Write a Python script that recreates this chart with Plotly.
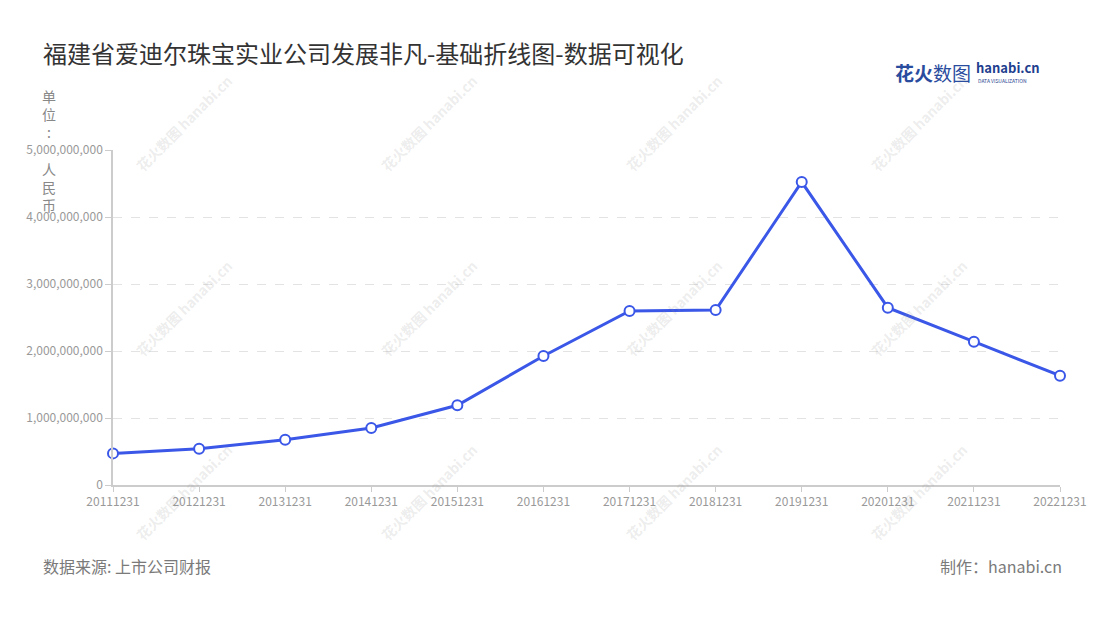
import plotly.graph_objects as go

# ---- data ----
periods = ["20111231", "20121231", "20131231", "20141231", "20151231", "20161231",
           "20171231", "20181231", "20191231", "20201231", "20211231", "20221231"]
revenue = [472000000, 542000000, 677000000, 850000000, 1190000000, 1925000000,
           2597000000, 2612000000, 4522000000, 2646000000, 2139000000, 1632000000]
y_ticks = [0, 1000000000, 2000000000, 3000000000, 4000000000, 5000000000]

title_text = "福建省爱迪尔珠宝实业公司发展非凡-基础折线图-数据可视化"
unit_text = "单<br>位<br>:<br> <br>人<br>民<br>币"
source_text = "数据来源: 上市公司财报"
maker_text = "制作：hanabi.cn"

FONT = "Noto Sans CJK SC, Noto Sans, sans-serif"
W, H = 1100, 620
L, R, T, B = 113, 40, 150, 135
PW, PH = W - L - R, H - T - B


def px(x):
    return (x - L) / PW


def py(y):
    return (H - B - y) / PH


fig = go.Figure()
fig.add_trace(go.Scatter(
    x=periods, y=revenue, mode="lines+markers",
    line=dict(color="#3a57e8", width=3),
    marker=dict(size=10, color="white", line=dict(color="#3a57e8", width=2)),
    hoverinfo="x+y", showlegend=False, cliponaxis=False,
))

annotations = []
# watermarks
for cx in [184, 429, 674, 919]:
    for cy in [123, 308, 492]:
        annotations.append(dict(
            text="<b>花火数图 hanabi.cn</b>", x=px(cx), y=py(cy), xref="paper", yref="paper",
            showarrow=False, textangle=-45, xanchor="center", yanchor="middle",
            font=dict(family=FONT, size=14, color="rgba(150,150,150,0.18)"),
        ))

annotations += [
    dict(text=unit_text, x=px(49), y=py(84), xref="paper", yref="paper", showarrow=False,
         xanchor="center", yanchor="top", align="center",
         font=dict(family=FONT, size=14, color="#888888")),
    dict(text=source_text, x=px(41), y=py(566), xref="paper", yref="paper", showarrow=False,
         xanchor="left", yanchor="middle", font=dict(family=FONT, size=16, color="#7a7a7a")),
    dict(text=maker_text, x=px(1064), y=py(566), xref="paper", yref="paper", showarrow=False,
         xanchor="right", yanchor="middle", font=dict(family=FONT, size=16, color="#7a7a7a")),
    # logo
    dict(text="<b>花火</b>数图", x=px(893), y=py(72), xref="paper", yref="paper", showarrow=False,
         xanchor="left", yanchor="middle", font=dict(family=FONT, size=19, color="#2a4c9e")),
    dict(text="<b>hanabi.cn</b>", x=px(974), y=py(68), xref="paper", yref="paper", showarrow=False,
         xanchor="left", yanchor="middle", font=dict(family=FONT, size=13, color="#1f3f8f")),
    dict(text="DATA VISUALIZATION", x=px(976), y=py(80), xref="paper", yref="paper", showarrow=False,
         xanchor="left", yanchor="middle", font=dict(family=FONT, size=5, color="#1f3f8f")),
]

fig.update_layout(
    width=W, height=H,
    margin=dict(l=L, r=R, t=T, b=B),
    paper_bgcolor="white", plot_bgcolor="white",
    font=dict(family=FONT),
    title=dict(text=title_text, x=43 / W, xref="container", xanchor="left",
               y=1 - 55 / H, yref="container", yanchor="middle",
               font=dict(family=FONT, size=24, color="#333333")),
    annotations=annotations,
    xaxis=dict(
        type="category", range=[0, len(periods) - 1],
        showline=True, linecolor="#cccccc", linewidth=1.5,
        ticks="outside", ticklen=5, tickcolor="#cccccc", tickwidth=1,
        showgrid=False, zeroline=False,
        tickfont=dict(family=FONT, size=12, color="#999999"),
    ),
    yaxis=dict(
        range=[0, 5000000000], tickvals=y_ticks, tickformat=",d",
        showline=True, linecolor="#cccccc", linewidth=1.5,
        ticks="outside", ticklen=6, tickcolor="#cccccc", tickwidth=1,
        showgrid=True, gridcolor="#e3e3e3", griddash="dash", gridwidth=1,
        zeroline=False,
        tickfont=dict(family=FONT, size=12, color="#999999"),
    ),
)

fig.write_html("out.html", config={"displayModeBar": False},
               post_script="document.body.style.margin='0';")
